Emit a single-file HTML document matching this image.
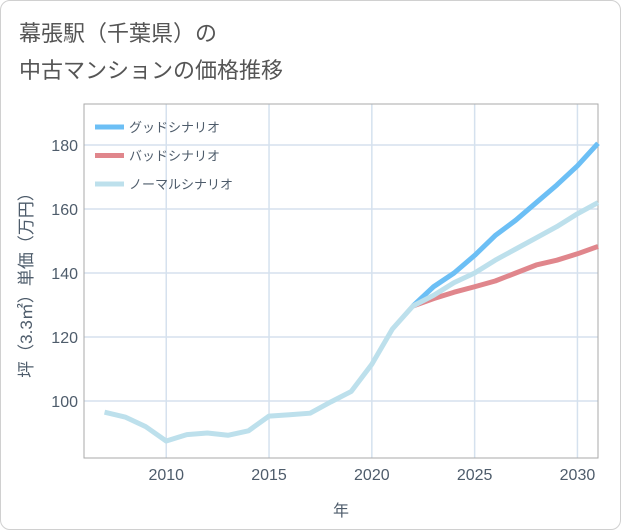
<!DOCTYPE html>
<html><head><meta charset="utf-8"><style>
body{margin:0;background:#fff;font-family:"Liberation Sans","Noto Sans CJK JP",sans-serif;}
#wrap{position:relative;width:619px;height:528px;border:1px solid #d0d0d0;border-radius:10px;background:#fff;overflow:hidden}
#title{position:absolute;left:18px;top:14px;font-size:22px;line-height:37px;color:#555;}
svg{position:absolute;left:0;top:0}
</style></head><body>
<div id="wrap">
<div id="title">幕張駅（千葉県）の<br>中古マンションの価格推移</div>
<svg id="chart" width="621" height="530"></svg>
</div>
<script>
const normalYears=[2007,2008,2009,2010,2011,2012,2013,2014,2015,2016,2017,2018,2019,2020,2021,2022,2023,2024,2025,2026,2027,2028,2029,2030,2031];
const normalValues=[96.5,95,92,87.5,89.5,90,89.3,90.7,95.3,95.7,96.2,99.7,103,111.5,122.5,129.7,133,137,140,144,147.5,151,154.5,158.5,162];
const goodYears=[2022,2023,2024,2025,2026,2027,2028,2029,2030,2031];
const goodValues=[129.7,135.7,140,145.5,151.7,156.5,162,167.5,173.5,180.5];
const badYears=[2022,2023,2024,2025,2026,2027,2028,2029,2030,2031];
const badValues=[129.7,132,134,135.7,137.5,140,142.5,144,146,148.3];
const xTicks=[2010,2015,2020,2025,2030];
const yTicks=[100,120,140,160,180];
const L=83,R=597,T=103,B=457,x0=2006,x1=2031,y0=82.2,y1=192.8;
const X=v=>L+(v-x0)/(x1-x0)*(R-L);
const Y=v=>B-(v-y0)/(y1-y0)*(B-T);
const s=document.getElementById('chart');const NS='http://www.w3.org/2000/svg';
const TC='#4e5c6b';
function mk(t,a){const e=document.createElementNS(NS,t);for(const k in a)e.setAttribute(k,a[k]);s.appendChild(e);return e;}
xTicks.forEach(v=>{
const g=mk('line',{x1:X(v),x2:X(v),y1:T,y2:B,stroke:'#d5e1ee','stroke-width':1.5});


const t=mk('text',{x:X(v),y:B+22,'text-anchor':'middle','font-size':16,fill:TC});t.textContent=v;


});
yTicks.forEach(v=>{
const g=mk('line',{x1:L,x2:R,y1:Y(v),y2:Y(v),stroke:'#d5e1ee','stroke-width':1.5});


const t=mk('text',{x:L-6,y:Y(v)+6,'text-anchor':'end','font-size':16,fill:TC});t.textContent=v;


});
const ax=mk('rect',{x:L,y:T,width:R-L,height:B-T,fill:'none',stroke:'#aaa','stroke-width':1});


function line(xs,vs,c,n){const p=mk('polyline',{points:xs.map((x,i)=>X(x)+','+Y(vs[i])).join(' '),fill:'none',stroke:c,'stroke-width':5,'stroke-linejoin':'round'});

}
line(goodYears,goodValues,'#6cbff5','good-scenario-line');
line(badYears,badValues,'#e0868c','bad-scenario-line');
line(normalYears,normalValues,'#bde0ec','normal-scenario-line');
const leg=[['グッドシナリオ','#6cbff5'],['バッドシナリオ','#e0868c'],['ノーマルシナリオ','#bde0ec']];
leg.forEach((d,i)=>{const y=126+i*28.5;
const r=mk('line',{x1:94,x2:123,y1:y,y2:y,stroke:d[1],'stroke-width':5});


const t=mk('text',{x:128,y:y+5,'font-size':13,fill:TC});t.textContent=d[0];

});
const xt=mk('text',{x:340,y:515,'text-anchor':'middle','font-size':16,fill:TC});xt.textContent='年';


const yt=mk('text',{x:0,y:0,'text-anchor':'middle','font-size':17,fill:TC,transform:'translate(31,280) rotate(-90)'});yt.textContent='坪（3.3㎡）単価（万円）';


</script>
</body></html>
